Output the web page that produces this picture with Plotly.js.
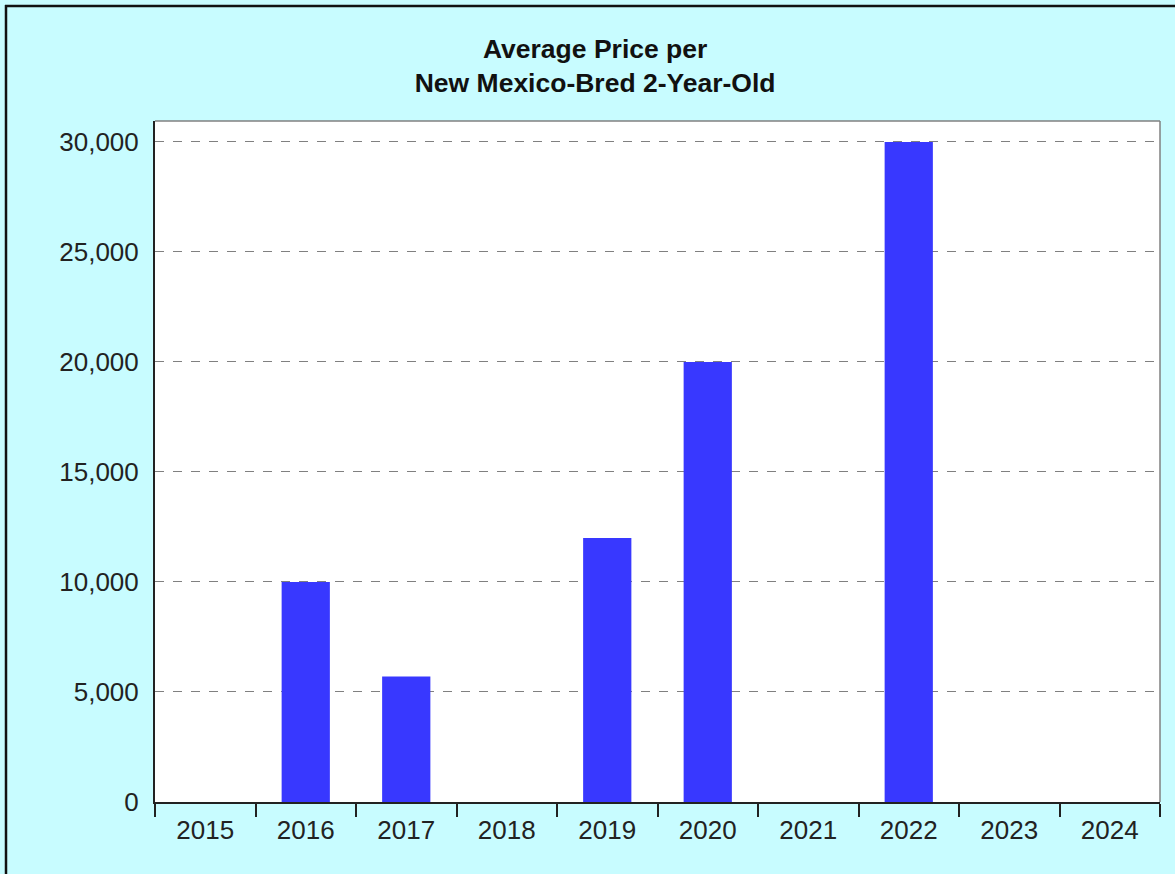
<!DOCTYPE html>
<html>
<head>
<meta charset="utf-8">
<script src="https://cdn.plot.ly/plotly-3.0.1.min.js"></script>
<style>
  html, body { margin: 0; padding: 0; background: #C8FCFF; }
  #chart { width: 1175px; height: 874px; }
</style>
</head>
<body>
<div id="chart"></div>
<script>
const years = ["2015", "2016", "2017", "2018", "2019", "2020", "2021", "2022", "2023", "2024"];
const avgPrice = [0, 10000, 5700, 0, 12000, 20000, 0, 30000, 0, 0];
const yTickVals = [0, 5000, 10000, 15000, 20000, 25000, 30000];
const chartTitle = "Average Price per<br>New Mexico-Bred 2-Year-Old";

const trace = {
  type: "bar",
  x: years,
  y: avgPrice,
  marker: { color: "#3838FF", line: { width: 0 } },
  hoverinfo: "x+y"
};

const layout = {
  width: 1175,
  height: 874,
  paper_bgcolor: "#C8FCFF",
  plot_bgcolor: "#FFFFFF",
  margin: { l: 155, r: 15, t: 121, b: 72, pad: 0 },
  bargap: 0.52,
  showlegend: false,
  font: { family: "Arial, 'Liberation Sans', sans-serif", color: "#111111", size: 26 },
  title: {
    text: chartTitle,
    font: { family: "Arial, 'Liberation Sans', sans-serif", size: 26.5, color: "#111111", weight: "bold" },
    x: 0.5065, xref: "container", xanchor: "center",
    y: 1 - 58 / 874, yref: "container", yanchor: "top"
  },
  xaxis: {
    type: "category",
    tickson: "boundaries",
    ticks: "outside",
    ticklen: 13,
    tickwidth: 2,
    tickcolor: "#222222",
    ticklabelstandoff: 4,
    showline: true,
    linecolor: "#222222",
    linewidth: 2,
    showgrid: false,
    zeroline: false,
    tickfont: { size: 26, color: "#222222" },
    fixedrange: true
  },
  yaxis: {
    range: [0, 30950],
    tickvals: yTickVals,
    tickformat: ",d",
    ticks: "",
    ticklabelstandoff: 9,
    showline: true,
    linecolor: "#222222",
    linewidth: 2,
    showgrid: true,
    gridcolor: "#808080",
    griddash: "dash",
    gridwidth: 1,
    zeroline: false,
    tickfont: { size: 26, color: "#222222" },
    fixedrange: true
  },
  shapes: [
    { type: "line", xref: "paper", yref: "paper", x0: 0, x1: 1, y0: 1, y1: 1, line: { color: "#808080", width: 1.5 } },
    { type: "line", xref: "paper", yref: "paper", x0: 1, x1: 1, y0: 0, y1: 1, line: { color: "#808080", width: 1.5 } },
    { type: "line", xref: "paper", yref: "paper", x0: (6 - 155) / 1005, x1: (6 - 155) / 1005, y0: (802 - 874) / 681, y1: (802 - 5) / 681, line: { color: "#111111", width: 2.5 } },
    { type: "line", xref: "paper", yref: "paper", x0: (5 - 155) / 1005, x1: (1175 - 155) / 1005, y0: (802 - 6) / 681, y1: (802 - 6) / 681, line: { color: "#111111", width: 2.5 } }
  ]
};

Plotly.newPlot("chart", [trace], layout, { displayModeBar: false, staticPlot: true });
</script>
</body>
</html>
